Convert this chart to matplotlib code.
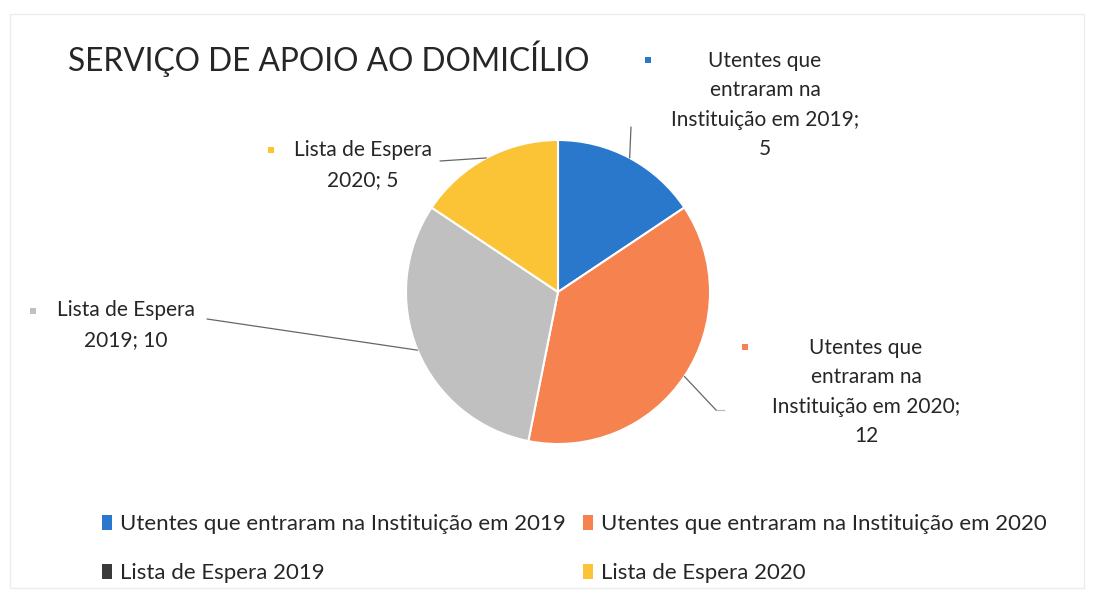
#!/usr/bin/env python3
"""
Serviço de Apoio ao Domicílio - pie chart
"""

import numpy as np
import matplotlib
matplotlib.use('Agg')
import matplotlib.pyplot as plt
from matplotlib.patches import Patch, Rectangle

plt.rcParams['font.family'] = ['Lato', 'DejaVu Sans']

# data
categories = ['Utentes que entraram na Instituição em 2019',
              'Utentes que entraram na Instituição em 2020',
              'Lista de Espera 2019',
              'Lista de Espera 2020']
values = [5, 12, 10, 5]
pie_labels = ['Utentes que\nentraram na\nInstituição em 2019;\n5',
              'Utentes que\nentraram na\nInstituição em 2020;\n12',
              'Lista de Espera\n2019; 10',
              'Lista de Espera\n2020; 5']
colors = ['#2a78cc', '#f5824f', '#c0c0c0', '#fbc436']
legend_colors = ['#2a78cc', '#f5824f', '#3a3a3a', '#fbc436']

W, H = 1095, 595
fig = plt.figure(figsize=(W / 100, H / 100), dpi=100)

# overlay axes in pixel coordinates for labels/markers
ov = fig.add_axes([0, 0, 1, 1])
ov.set_xlim(0, W)
ov.set_ylim(H, 0)
ov.axis('off')

# pie axes
cx, cy, r = 558, 292, 152
ax = fig.add_axes([(cx - r) / W, 1 - (cy + r) / H, 2 * r / W, 2 * r / H])
wedges, _ = ax.pie(values, colors=colors, startangle=90, counterclock=False,
                   wedgeprops=dict(edgecolor='white', linewidth=1.5))
ax.set_xlim(-1, 1)
ax.set_ylim(-1, 1)
ax.set_aspect('equal')

# frame
ov.add_patch(Rectangle((10, 14), 1074, 574, fill=False, edgecolor='#ececec', lw=1))

# title
ov.text(68, 59, 'SERVIÇO DE APOIO AO DOMICÍLIO', fontsize=22.8, color='#262626',
        ha='left', va='center')

# data labels: center position, marker position, leader start
label_pos = [(765, 105), (866, 392), (126, 325), (363, 165)]
marker_pos = [(648, 60), (745, 347), (33, 311), (271, 150)]
leader_start = [(631, 127), (716, 410), (207, 319), (440, 161)]

for w, lab, lp, mp, ls, c in zip(wedges, pie_labels, label_pos, marker_pos,
                                  leader_start, colors):
    ang = np.deg2rad((w.theta1 + w.theta2) / 2)
    ov.text(lp[0], lp[1], lab, fontsize=15, color='#262626', ha='center',
            va='center', multialignment='center', linespacing=1.58)
    ov.add_patch(Rectangle((mp[0] - 3, mp[1] - 3), 6, 6, color=c, lw=0))
    ax.annotate('', xy=(np.cos(ang), np.sin(ang)), xycoords='data',
                xytext=ls, textcoords=ov.transData,
                arrowprops=dict(arrowstyle='-', color='#666666', lw=0.9,
                                shrinkA=0, shrinkB=0))

# short horizontal tail on the orange leader
ov.plot([716, 724], [410, 410], color='#bbbbbb', lw=0.9)

# legend, filled row by row
order = [0, 2, 1, 3]
handles = [Patch(facecolor=legend_colors[i], edgecolor='none') for i in order]
fig.legend(handles, [categories[i] for i in order], ncol=2, loc='upper left',
           bbox_to_anchor=(102 / W, 1 - 514 / H), frameon=False, fontsize=16,
           handlelength=0.45, handleheight=0.65, handletextpad=0.35,
           columnspacing=0.8, labelspacing=1.3, borderpad=0,
           borderaxespad=0, labelcolor='#262626')

plt.savefig('out.png', dpi=100)
